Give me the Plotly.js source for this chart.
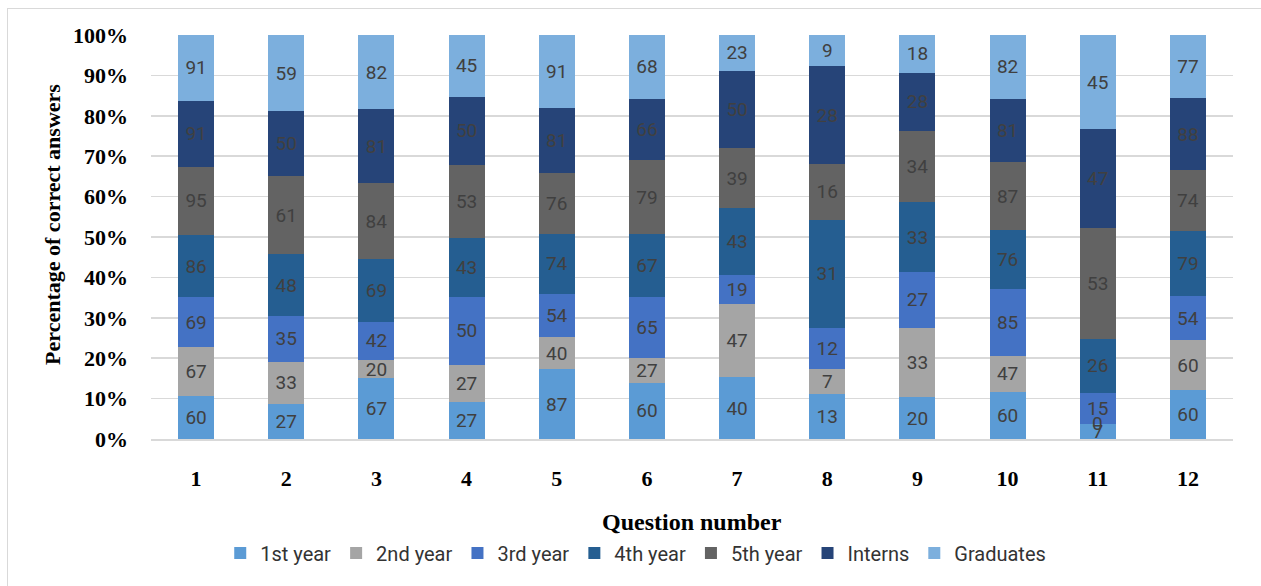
<!DOCTYPE html>
<html>
<head>
<meta charset="utf-8">
<script src="https://cdn.plot.ly/plotly-3.0.1.min.js"></script>
<style>
  html, body { margin: 0; padding: 0; background: #fff; }
  #chart { width: 1261px; height: 586px; }
  #frame { position: absolute; left: 7px; top: 8px; width: 1260px; height: 590px; border: 1px solid #d9d9d9; pointer-events: none; }
</style>
</head>
<body>
<div id="chart"></div>
<div id="frame"></div>
<script>
const questions = ['1','2','3','4','5','6','7','8','9','10','11','12'];
const seriesNames = ['1st year','2nd year','3rd year','4th year','5th year','Interns','Graduates'];
const firstYear  = [60,27,67,27,87,60,40,13,20,60,7,60];
const secondYear = [67,33,20,27,40,27,47,7,33,47,0,60];
const thirdYear  = [69,35,42,50,54,65,19,12,27,85,15,54];
const fourthYear = [86,48,69,43,74,67,43,31,33,76,26,79];
const fifthYear  = [95,61,84,53,76,79,39,16,34,87,53,74];
const interns    = [91,50,81,50,81,66,50,28,28,81,47,88];
const graduates  = [91,59,82,45,91,68,23,9,18,82,45,77];
const seriesValues = [firstYear, secondYear, thirdYear, fourthYear, fifthYear, interns, graduates];
const colors = ['#5B9BD5','#A5A5A5','#4472C4','#255E91','#636363','#264478','#7CAFDD'];
const yTickValues = [0,10,20,30,40,50,60,70,80,90,100];

const labelFont = { family: 'Roboto, sans-serif', size: 19, color: '#404040' };
const serif = 'Liberation Serif, Times New Roman, serif';

const traces = seriesValues.map((vals, i) => ({
  type: 'bar',
  name: seriesNames[i],
  x: questions,
  y: vals,
  text: vals.map(String),
  textposition: 'inside',
  insidetextanchor: 'middle',
  textangle: 0,
  constraintext: 'none',
  textfont: labelFont,
  marker: { color: colors[i], line: { width: 0 } },
  hoverinfo: 'skip'
}));

// labels for zero-valued segments (plotly hides text on empty bars)
const annotations = [];
questions.forEach((q, qi) => {
  const total = seriesValues.reduce((s, arr) => s + arr[qi], 0);
  let cum = 0;
  seriesValues.forEach((arr) => {
    if (arr[qi] === 0) {
      annotations.push({
        x: qi, y: cum / total * 100, xref: 'x', yref: 'y', yshift: 1,
        text: '0', showarrow: false, font: labelFont
      });
    }
    cum += arr[qi];
  });
});

annotations.push({
  xref: 'paper', yref: 'paper', x: 0, y: 0.53, xanchor: 'center', yanchor: 'middle',
  xshift: -98, textangle: -90, showarrow: false,
  text: '<b>Percentage of correct answers</b>',
  font: { family: serif, size: 22, color: '#000' }
});
annotations.push({
  xref: 'paper', yref: 'paper', x: 0.5, y: -0.2054, xanchor: 'center', yanchor: 'middle',
  showarrow: false,
  text: '<b>Question number</b>',
  font: { family: serif, size: 24, color: '#000' }
});

const layout = {
  width: 1261, height: 586,
  margin: { l: 151, r: 28, t: 35, b: 147 },
  paper_bgcolor: '#ffffff',
  plot_bgcolor: '#ffffff',
  barmode: 'stack',
  barnorm: 'percent',
  bargap: 0.6,
  uniformtext: { minsize: 19, mode: 'show' },
  showlegend: true,
  legend: {
    orientation: 'h', x: 0.448, xanchor: 'center', y: -0.282, yanchor: 'middle',
    font: { family: 'Roboto, sans-serif', size: 20, color: '#333' },
    traceorder: 'normal', itemwidth: 30
  },
  xaxis: {
    type: 'category',
    tickmode: 'array',
    tickvals: questions,
    ticktext: questions.map(q => '<b>' + q + '</b>'),
    tickfont: { family: serif, size: 22, color: '#000' },
    ticklabelstandoff: 19,
    showgrid: false,
    showline: true, linecolor: '#d9d9d9', linewidth: 2,
    zeroline: false,
    automargin: false
  },
  yaxis: {
    range: [0, 100],
    tickmode: 'array',
    tickvals: yTickValues,
    ticktext: yTickValues.map(v => '<b>' + v + '%</b>'),
    tickfont: { family: serif, size: 22, color: '#000' },
    showgrid: true, gridcolor: '#d9d9d9', gridwidth: 1.5,
    zeroline: false,
    showline: false,
    ticklabelstandoff: 22,
    automargin: false
  },
  annotations: annotations
};

Plotly.newPlot('chart', traces, layout, { displayModeBar: false, staticPlot: true });
</script>
</body>
</html>
